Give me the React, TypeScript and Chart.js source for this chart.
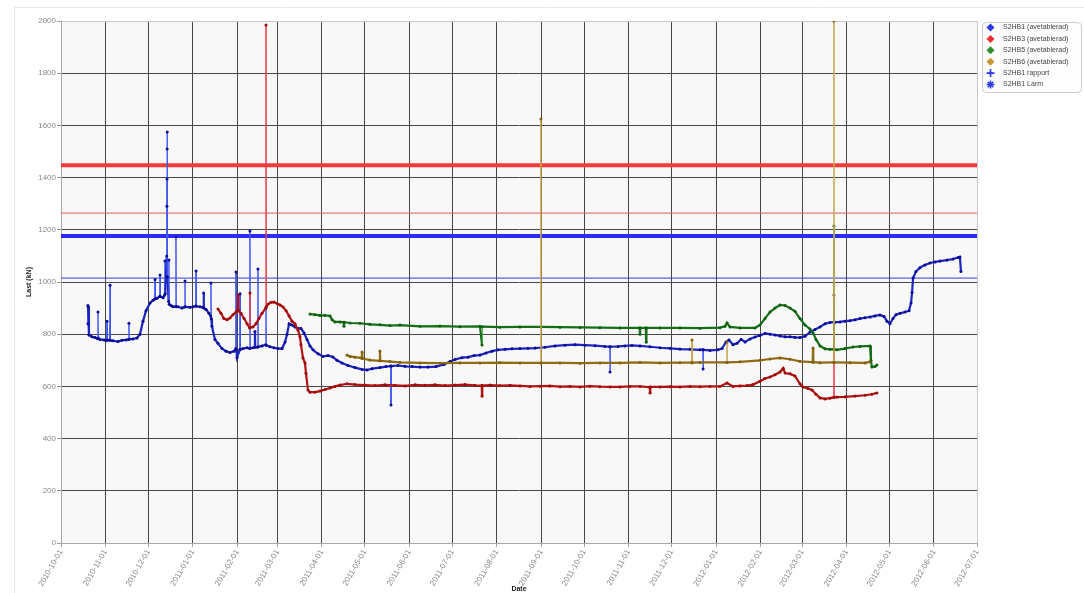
import { useEffect, useRef } from 'react';
import { Chart, registerables } from 'chart.js';

Chart.register(...registerables);

type Pt = [number, number];

// Month starts shown on the date axis
const monthLabels = [
  '2010-10-01', '2010-11-01', '2010-12-01', '2011-01-01', '2011-02-01', '2011-03-01',
  '2011-04-01', '2011-05-01', '2011-06-01', '2011-07-01', '2011-08-01', '2011-09-01',
  '2011-10-01', '2011-11-01', '2011-12-01', '2012-01-01', '2012-02-01', '2012-03-01',
  '2012-04-01', '2012-05-01', '2012-06-01', '2012-07-01',
];
const ORIGIN = Date.parse(monthLabels[0]);
const dayOf = (iso: string) => Math.round((Date.parse(iso) - ORIGIN) / 86400000);
const monthDays = monthLabels.map(dayOf);

// Load readings: [days since 2010-10-01, load in kN]
const s2hb1: Pt[] = [
  [18.8, 840], [18.8, 910], [18.9, 905], [19.5, 797], [21.6, 790], [23.7, 787], [25.5, 783], [25.8, 885],
  [26.0, 785], [27.2, 780], [30.0, 778], [31.8, 776], [32.1, 850], [32.3, 777], [33.9, 778], [34.2, 988],
  [34.5, 776], [36.3, 775], [39.8, 772], [42.6, 777], [45.3, 778], [47.2, 780], [47.4, 842], [47.6, 781],
  [50.2, 782], [53.0, 785], [55.1, 800], [57.2, 850], [59.3, 890], [62.1, 920], [64.2, 930], [65.4, 935],
  [65.6, 1010], [65.8, 936], [67.0, 938], [68.9, 945], [69.1, 1027], [69.3, 944], [71.2, 940], [72.3, 950],
  [72.5, 1080], [72.7, 955], [73.8, 1100], [73.9, 1290], [74.0, 1395], [74.05, 1510], [74.1, 1575], [74.2, 1020],
  [75.1, 925], [75.3, 1084], [75.5, 915], [76.7, 910], [78.1, 905], [80.0, 906], [80.2, 1172], [80.4, 905],
  [81.6, 905], [84.4, 900], [86.3, 904], [86.5, 1004], [86.7, 905], [90.0, 903], [92.1, 905], [94.0, 908],
  [94.2, 1042], [94.4, 907], [97.0, 905], [99.1, 902], [99.5, 958], [99.7, 900], [101.2, 895], [103.2, 880],
  [104.4, 870], [104.6, 996], [104.8, 860], [105.3, 830], [107.4, 780], [109.5, 765], [112.3, 745], [115.1, 735],
  [117.9, 730], [120.7, 735], [121.9, 745], [122.1, 1038], [122.3, 740], [122.8, 710], [124.7, 740], [124.9, 955],
  [125.1, 742], [127.0, 745], [129.8, 748], [131.6, 745], [131.8, 1195], [132.0, 746], [133.9, 748], [135.1, 750],
  [135.3, 810], [135.5, 750], [137.2, 750], [137.4, 1050], [137.6, 752], [140.2, 755], [142.8, 760], [143.0, 900],
  [143.2, 758], [145.8, 752], [148.6, 748], [151.4, 745], [154.2, 745], [156.3, 770], [157.7, 800], [159.1, 840],
  [161.1, 835], [163.2, 828], [165.3, 822], [167.4, 822], [169.5, 805], [171.6, 780], [173.7, 755], [175.8, 740],
  [179.3, 725], [182.8, 715], [186.3, 718], [189.7, 713], [192.5, 700], [196.0, 690], [200.2, 680], [205.1, 672],
  [210.0, 665], [213.5, 663], [217.0, 668], [222.5, 672], [226.7, 676], [230.0, 678], [230.2, 529], [230.4, 678],
  [235.1, 680], [240.0, 677], [244.9, 676], [250.4, 674], [256.0, 674], [261.6, 676], [267.2, 684], [271.4, 695],
  [274.9, 703], [279.7, 710], [283.9, 712], [288.1, 718], [292.3, 720], [296.5, 728], [300.7, 735], [304.9, 740],
  [309.7, 742], [314.6, 744], [320.2, 745], [325.8, 746], [330.7, 747], [337.6, 750], [344.6, 755], [351.6, 758],
  [358.6, 760], [365.5, 758], [372.5, 756], [379.5, 753], [382.8, 752], [383.0, 655], [383.2, 752], [388.6, 753],
  [393.4, 755], [398.3, 757], [403.9, 755], [410.8, 752], [417.9, 748], [424.8, 746], [431.8, 743], [438.8, 742],
  [445.8, 740], [447.7, 740], [447.9, 667], [448.1, 740], [452.7, 738], [458.3, 740], [461.1, 745], [463.9, 770],
  [466.0, 778], [468.8, 760], [471.6, 765], [474.4, 780], [477.2, 770], [480.7, 782], [484.1, 789], [487.6, 795],
  [491.1, 803], [494.6, 800], [498.1, 797], [501.6, 793], [505.1, 790], [508.6, 790], [512.0, 788], [515.5, 787],
  [519.0, 792], [522.5, 808], [526.0, 818], [529.5, 828], [533.0, 840], [536.5, 845], [540.0, 846], [543.4, 847],
  [546.9, 850], [550.4, 852], [553.9, 855], [557.4, 860], [560.9, 863], [564.4, 866], [567.8, 870], [571.3, 874],
  [574.1, 868], [576.2, 850], [578.3, 840], [580.4, 860], [582.5, 875], [585.3, 880], [588.8, 885], [591.6, 890],
  [593.0, 920], [593.7, 960], [594.4, 1015], [596.4, 1040], [599.2, 1055], [602.7, 1065], [606.2, 1073], [609.7, 1077],
  [613.2, 1080], [618.1, 1084], [622.3, 1088], [625.8, 1094], [627.1, 1096], [627.8, 1040],
];

const s2hb3: Pt[] = [
  [109.5, 897], [111.6, 880], [113.7, 860], [115.8, 855], [117.9, 862], [120.0, 875], [122.1, 885], [123.3, 893],
  [123.5, 950], [123.7, 890], [125.6, 880], [127.7, 860], [129.8, 840], [131.6, 824], [131.8, 958], [132.0, 826],
  [133.9, 828], [136.0, 840], [138.1, 860], [140.2, 880], [142.8, 900], [143.0, 1985], [143.2, 905], [144.4, 915],
  [146.5, 922], [148.6, 923], [150.7, 918], [152.8, 912], [154.9, 904], [157.0, 890], [159.1, 870], [161.1, 850],
  [163.2, 840], [165.3, 816], [166.7, 790], [167.4, 760], [168.8, 709], [170.2, 690], [170.9, 650], [172.3, 586],
  [173.7, 578], [177.2, 578], [180.7, 582], [184.2, 588], [187.7, 594], [191.1, 600], [194.6, 605], [199.5, 610],
  [205.1, 607], [212.1, 605], [219.0, 603], [226.0, 606], [233.0, 604], [240.0, 602], [247.0, 606], [253.9, 604],
  [260.9, 606], [267.9, 603], [274.9, 605], [281.8, 607], [288.8, 604], [293.5, 603], [293.7, 563], [293.9, 603],
  [299.3, 605], [306.2, 603], [313.2, 604], [320.2, 602], [327.2, 600], [334.2, 601], [341.1, 602], [348.1, 599],
  [355.1, 600], [362.1, 598], [369.0, 601], [376.0, 599], [383.0, 598], [390.0, 598], [396.9, 600], [403.9, 600],
  [410.7, 597], [410.9, 575], [411.1, 598], [417.9, 598], [424.8, 599], [431.8, 598], [438.8, 600], [445.8, 599],
  [452.7, 600], [459.7, 600], [464.6, 613], [468.8, 600], [473.7, 602], [478.6, 603], [482.8, 607], [487.6, 620],
  [491.1, 630], [494.6, 636], [498.1, 645], [501.6, 655], [503.8, 670], [505.1, 651], [508.6, 648], [512.0, 640],
  [515.5, 610], [517.6, 598], [521.1, 592], [523.9, 586], [526.7, 570], [529.5, 556], [533.0, 552], [536.5, 555],
  [539.1, 558], [539.2, 950], [539.3, 558], [541.3, 559], [546.9, 560], [553.9, 563], [560.9, 566], [565.7, 570],
  [569.2, 575],
];

const s2hb5: Pt[] = [
  [173.7, 877], [177.2, 875], [180.7, 872], [184.2, 872], [187.7, 870], [189.1, 855], [191.1, 847], [194.6, 847],
  [197.2, 846], [197.4, 830], [197.6, 846], [201.6, 843], [208.6, 842], [215.6, 838], [222.5, 836], [229.5, 833],
  [236.5, 835], [250.4, 830], [264.4, 831], [278.3, 829], [292.3, 830], [293.7, 759], [293.9, 829], [306.2, 827],
  [320.2, 828], [334.8, 828], [348.1, 827], [362.1, 826], [376.0, 825], [390.0, 824], [403.7, 824], [403.9, 800],
  [404.1, 824], [408.0, 824], [408.2, 770], [408.4, 824], [417.9, 824], [431.8, 824], [445.8, 823], [459.7, 825],
  [463.2, 830], [464.6, 843], [466.7, 828], [473.7, 824], [484.1, 824], [487.6, 835], [491.1, 860], [494.6, 885],
  [498.1, 900], [501.6, 912], [505.1, 910], [508.6, 900], [512.0, 888], [515.5, 860], [519.0, 835], [522.5, 820],
  [524.6, 805], [526.7, 780], [529.5, 755], [533.0, 744], [536.5, 742], [539.1, 742], [539.2, 1215], [539.3, 742],
  [541.3, 740], [546.9, 745], [552.5, 751], [557.4, 753], [564.4, 755], [565.0, 700], [565.7, 674], [567.8, 676],
  [569.2, 682],
];

const s2hb6: Pt[] = [
  [199.5, 720], [201.6, 715], [205.1, 712], [209.8, 708], [210.0, 732], [210.2, 707], [215.6, 701], [222.3, 698],
  [222.5, 736], [222.7, 698], [229.5, 695], [236.5, 692], [250.4, 690], [264.4, 689], [278.3, 690], [292.3, 690],
  [306.2, 691], [320.2, 690], [334.7, 690], [334.8, 1625], [334.9, 690], [348.1, 690], [362.1, 689], [376.0, 690],
  [390.0, 690], [403.9, 692], [417.9, 690], [431.8, 691], [440.0, 691], [440.2, 778], [440.4, 691], [445.8, 692],
  [464.4, 692], [464.6, 770], [464.8, 692], [473.7, 694], [487.6, 700], [494.6, 705], [501.6, 709], [508.6, 704],
  [515.5, 696], [524.4, 693], [524.6, 747], [524.8, 693], [529.5, 691], [539.1, 692], [539.2, 2000], [539.3, 692],
  [550.4, 691], [560.9, 690], [564.4, 694],
];

// Limit levels (kN)
const s2hb1Rapport = 1015;
const s2hb1Larm = 1176;
const s2hb3Rapport = 1264;
const s2hb3Larm = 1447;

const legendEntries = [
  { text: 'S2HB1 (avetablerad)', color: '#2a3ae6', style: 'diamond' },
  { text: 'S2HB3 (avetablerad)', color: '#e83232', style: 'diamond' },
  { text: 'S2HB5 (avetablerad)', color: '#2e8f2e', style: 'diamond' },
  { text: 'S2HB6 (avetablerad)', color: '#c8963a', style: 'diamond' },
  { text: 'S2HB1 rapport', color: '#2a3ae6', style: 'plus' },
  { text: 'S2HB1 Larm', color: '#2a3ae6', style: 'star' },
];

const FONT = "'Liberation Sans', Arial, sans-serif";

function series(label: string, pts: Pt[], line: string, dot: string, spike: string, order: number) {
  const isSpike = (c: any) =>
    Math.abs(c.p1.parsed.y - c.p0.parsed.y) > 60 && Math.abs(c.p1.parsed.x - c.p0.parsed.x) < 0.6;
  return {
    label,
    data: pts.map(([x, y]) => ({ x, y })),
    borderColor: line,
    borderWidth: 2.2,
    pointRadius: 1.5,
    pointBorderWidth: 0,
    pointBackgroundColor: dot,
    tension: 0,
    order,
    segment: {
      borderColor: (c: any) => (isSpike(c) ? spike : undefined),
      borderWidth: (c: any) => (isSpike(c) ? 1 : undefined),
    },
  };
}

function level(label: string, value: number, color: string, width: number) {
  return {
    label,
    data: [
      { x: monthDays[0], y: value },
      { x: monthDays[monthDays.length - 1], y: value },
    ],
    borderColor: color,
    borderWidth: width,
    pointRadius: 0,
    order: 10,
  };
}

function drawSymbol(ctx: CanvasRenderingContext2D, style: string, x: number, y: number, color: string) {
  ctx.save();
  ctx.fillStyle = color;
  ctx.strokeStyle = color;
  if (style === 'diamond') {
    ctx.beginPath();
    ctx.moveTo(x, y - 4);
    ctx.lineTo(x + 4, y);
    ctx.lineTo(x, y + 4);
    ctx.lineTo(x - 4, y);
    ctx.closePath();
    ctx.fill();
  } else if (style === 'plus') {
    ctx.lineWidth = 1.6;
    ctx.beginPath();
    ctx.moveTo(x - 4, y);
    ctx.lineTo(x + 4, y);
    ctx.moveTo(x, y - 4);
    ctx.lineTo(x, y + 4);
    ctx.stroke();
    ctx.beginPath();
    ctx.moveTo(x, y - 2);
    ctx.lineTo(x + 2, y);
    ctx.lineTo(x, y + 2);
    ctx.lineTo(x - 2, y);
    ctx.closePath();
    ctx.fill();
  } else {
    ctx.lineWidth = 1.5;
    ctx.beginPath();
    for (let k = 0; k < 4; k++) {
      const a = (k * Math.PI) / 4;
      ctx.moveTo(x - 4 * Math.cos(a), y - 4 * Math.sin(a));
      ctx.lineTo(x + 4 * Math.cos(a), y + 4 * Math.sin(a));
    }
    ctx.stroke();
  }
  ctx.restore();
}

const framePlugin = {
  id: 'frame',
  beforeDraw(chart: any) {
    const { ctx, width, height, chartArea } = chart;
    ctx.save();
    ctx.fillStyle = '#ffffff';
    ctx.fillRect(0, 0, width, height);
    ctx.strokeStyle = '#e6e6e6';
    ctx.lineWidth = 1;
    ctx.beginPath();
    ctx.moveTo(14.5, height);
    ctx.lineTo(14.5, 7.5);
    ctx.lineTo(width, 7.5);
    ctx.stroke();
    ctx.fillStyle = '#f8f8f8';
    ctx.fillRect(chartArea.left, chartArea.top, chartArea.right - chartArea.left, chartArea.bottom - chartArea.top);
    ctx.restore();
  },
  afterDraw(chart: any) {
    // series key, boxed to the right of the plot
    const { ctx, chartArea } = chart;
    const left = chartArea.right + 5.5;
    const top = chartArea.top + 1.5;
    const rowH = 11.4;
    ctx.save();
    ctx.fillStyle = '#fdfdfd';
    ctx.strokeStyle = '#cccccc';
    ctx.lineWidth = 1;
    ctx.beginPath();
    ctx.roundRect(left, top, 99, 70, 4);
    ctx.fill();
    ctx.stroke();
    ctx.font = `7px ${FONT}`;
    ctx.textBaseline = 'middle';
    ctx.fillStyle = '#444';
    legendEntries.forEach((e, i) => {
      const cy = top + 5 + i * rowH;
      drawSymbol(ctx, e.style, left + 8, cy, e.color);
      ctx.fillStyle = '#444';
      ctx.fillText(e.text, left + 20.5, cy);
    });
    ctx.restore();
  },
};

export default function App() {
  const ref = useRef<HTMLCanvasElement>(null);

  useEffect(() => {
    if (!ref.current) return;
    const chart = new Chart(ref.current, {
      type: 'line',
      data: {
        datasets: [
          series('S2HB1 (avetablerad)', s2hb1, '#1b25c0', '#0c0c95', '#3f55f0', 4),
          series('S2HB3 (avetablerad)', s2hb3, '#b01414', '#a00808', '#e8384a', 3),
          series('S2HB5 (avetablerad)', s2hb5, '#157015', '#0d600d', '#3f9a3f', 2),
          series('S2HB6 (avetablerad)', s2hb6, '#8f6c12', '#83600a', '#c9a44c', 1),
          level('S2HB1 rapport', s2hb1Rapport, '#3b3bd8', 1),
          level('S2HB1 Larm', s2hb1Larm, '#2b2bf5', 4),
          level('S2HB3 rapport', s2hb3Rapport, '#e05a5a', 1),
          level('S2HB3 Larm', s2hb3Larm, '#f63a3a', 4),
        ] as any,
      },
      options: {
        animation: false,
        responsive: false,
        events: [],
        layout: { padding: { left: 20, top: 21, right: 107, bottom: 0 } },
        plugins: {
          tooltip: { enabled: false },
          legend: { display: false },
        },
        scales: {
          x: {
            type: 'linear',
            min: monthDays[0],
            max: monthDays[monthDays.length - 1],
            afterBuildTicks: (axis: any) => {
              axis.ticks = monthDays.map((v) => ({ value: v }));
            },
            afterFit: (s: any) => {
              s.height = 50;
            },
            ticks: {
              autoSkip: false,
              minRotation: 60,
              maxRotation: 60,
              padding: 1,
              color: '#8a8a8a',
              font: { family: FONT, size: 8 },
              callback: (v: any) => {
                const i = monthDays.indexOf(Number(v));
                return i >= 0 ? monthLabels[i] : '';
              },
            },
            grid: {
              color: (c: any) => (c.tick && c.tick.value === monthDays[monthDays.length - 1] ? '#c8c8c8' : '#474747'),
              tickColor: '#a0a0a0',
              tickLength: 4,
            },
            border: { color: '#a8a8a8' },
            title: {
              display: true,
              text: 'Date',
              color: '#222',
              font: { family: FONT, size: 7, weight: 'bold' },
              padding: { top: 0, bottom: 0 },
            },
          },
          y: {
            min: 0,
            max: 2000,
            afterFit: (s: any) => {
              s.width = 41;
            },
            ticks: {
              stepSize: 200,
              padding: 1,
              color: '#8a8a8a',
              font: { family: FONT, size: 8 },
              callback: (v: any) => String(v),
            },
            grid: {
              color: (c: any) => (c.tick && c.tick.value === 2000 ? '#c8c8c8' : '#474747'),
              tickColor: '#a0a0a0',
              tickLength: 4,
            },
            border: { color: '#a8a8a8' },
            title: {
              display: true,
              text: 'Last (kN)',
              color: '#222',
              font: { family: FONT, size: 7, weight: 'bold' },
              padding: { top: 5, bottom: 2 },
            },
          },
        },
      } as any,
      plugins: [framePlugin],
    });
    return () => chart.destroy();
  }, []);

  return (
    <div style={{ position: 'fixed', left: 0, top: 0, width: 1084, height: 593 }}>
      <canvas ref={ref} width={1084} height={593} style={{ display: 'block' }} />
    </div>
  );
}
